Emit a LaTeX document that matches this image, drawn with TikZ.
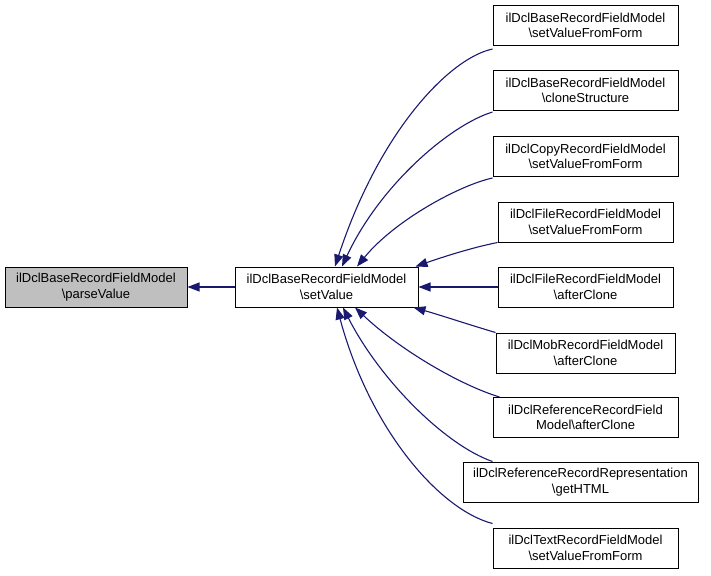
\documentclass[tikz,border=0pt]{standalone}
\usepackage{fontspec}
\setmainfont{Liberation Sans}
\usetikzlibrary{arrows.meta}
\definecolor{edgecol}{RGB}{25,25,112}
\definecolor{boxgray}{RGB}{191,191,191}
\begin{document}
\begin{tikzpicture}[x=1pt,y=-1pt,
  fn/.style={draw=black,line width=1pt,fill=white,inner sep=0pt,align=center,
    minimum height=40pt,font=\fontsize{13}{15.5}\selectfont},
  cur/.style={fill=boxgray},
  call/.style={draw=edgecol,line width=1.1pt,-{Triangle[length=12pt,width=9pt]}}]
\useasboundingbox (0,0) rectangle (711,575);
\node[fn,cur,minimum width=182pt] (L) at (96,287) {ilDclBaseRecordFieldModel\\\textbackslash parseValue};
\node[fn,minimum width=183pt] (M) at (326.5,287) {ilDclBaseRecordFieldModel\\\textbackslash setValue};
\node[fn,minimum width=185pt] (n1) at (585.5,25.5) {ilDclBaseRecordFieldModel\\\textbackslash setValueFromForm};
\node[fn,minimum width=185pt] (n2) at (585.5,90.5) {ilDclBaseRecordFieldModel\\\textbackslash cloneStructure};
\node[fn,minimum width=185pt] (n3) at (585.5,156.5) {ilDclCopyRecordFieldModel\\\textbackslash setValueFromForm};
\node[fn,minimum width=175pt] (n4) at (585.5,222) {ilDclFileRecordFieldModel\\\textbackslash setValueFromForm};
\node[fn,minimum width=175pt] (n5) at (585.5,287) {ilDclFileRecordFieldModel\\\textbackslash afterClone};
\node[fn,minimum width=179pt] (n6) at (585.5,353) {ilDclMobRecordFieldModel\\\textbackslash afterClone};
\node[fn,minimum width=185pt] (n7) at (585.5,417.5) {ilDclReferenceRecordField\\Model\textbackslash afterClone};
\node[fn,minimum width=235pt] (n8) at (580.5,482) {ilDclReferenceRecordRepresentation\\\textbackslash getHTML};
\node[fn,minimum width=185pt] (n9) at (585.5,548) {ilDclTextRecordFieldModel\\\textbackslash setValueFromForm};
% edges
\draw[call] (M.west) -- (L.east);
\draw[call] ([yshift=-3pt]n1.south west) .. controls (450,58) and (380,130) .. ([xshift=8.5pt]M.north);
\draw[call] ([yshift=-1pt]n2.south west) .. controls (450,125) and (380,185) .. ([xshift=15.5pt]M.north);
\draw[call] ([yshift=-1pt]n3.south west) .. controls (460,185) and (395,220) .. ([xshift=30.5pt]M.north);
\draw[call] ([yshift=0pt]n4.south west) .. controls (470,248) and (440,258) .. ([xshift=-3pt]M.north east);
\draw[call] (n5.west) -- (M.east);
\draw[call] (n6.north west) .. controls (470,325) and (440,315) .. ([xshift=-5pt]M.south east);
\draw[call] ([xshift=7pt]n7.north west) .. controls (460,385) and (400,350) .. ([xshift=28.5pt]M.south);
\draw[call] ([xshift=30pt]n8.north west) .. controls (445,445) and (380,380) .. ([xshift=16.5pt]M.south);
\draw[call] ([yshift=4pt]n9.north west) .. controls (440,510) and (370,430) .. ([xshift=10.5pt]M.south);
\end{tikzpicture}
\end{document}
